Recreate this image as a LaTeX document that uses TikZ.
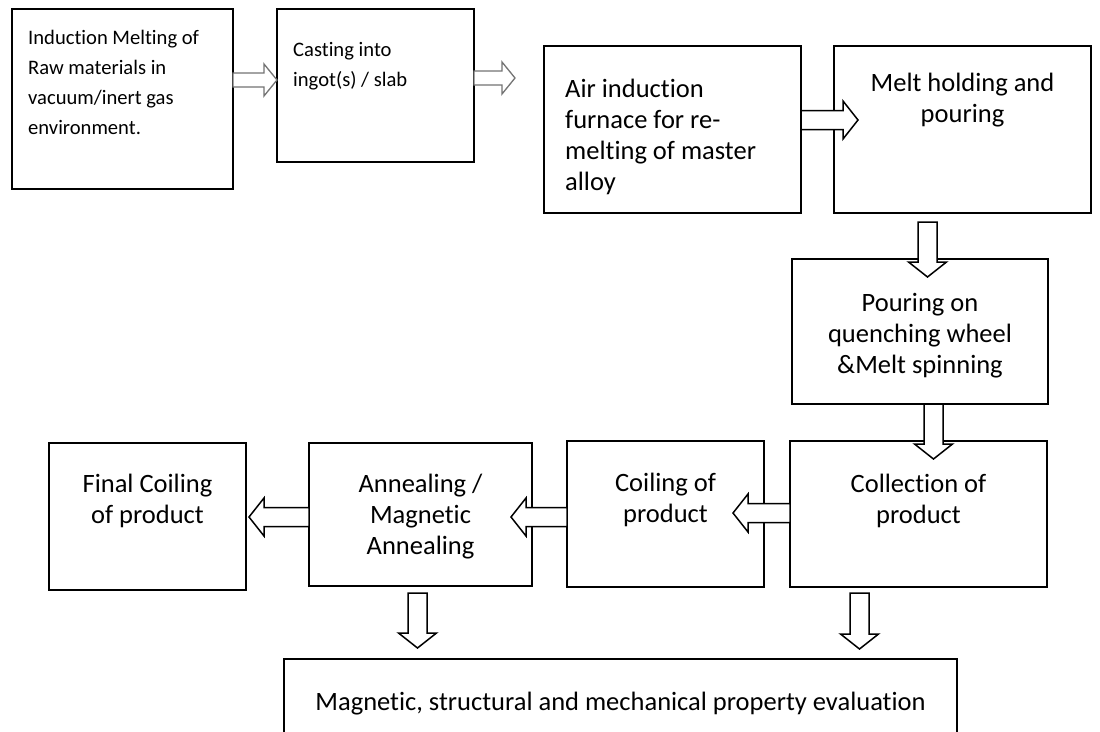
\documentclass[tikz,border=0pt]{standalone}
\usepackage{fontspec}
\setmainfont{Carlito}[Ligatures=NoCommon]
\usetikzlibrary{calc}

% hollow block arrow, #2 = start of shaft, #3 = tip
\def\shafthw{9.5pt}
\def\headhw{19pt}
\def\headlen{15pt}
\newcommand{\fatarrow}[3][]{%
	\coordinate (fa-s) at #2;
	\coordinate (fa-t) at #3;
	\coordinate (fa-h) at ($(fa-t)!\headlen!(fa-s)$);
	\draw[blockarr,#1] ($(fa-s)!\shafthw!90:(fa-t)$) -- ($(fa-h)!\shafthw!90:(fa-t)$)
		-- ($(fa-h)!\headhw!90:(fa-t)$) -- (fa-t) -- ($(fa-h)!\headhw!-90:(fa-t)$)
		-- ($(fa-h)!\shafthw!-90:(fa-t)$) -- ($(fa-s)!\shafthw!-90:(fa-t)$) -- cycle;
}

\begin{document}
\begin{tikzpicture}[x=1pt,y=-1pt,
		stage/.style={draw, line width=1.6pt, inner sep=0pt, outer sep=0pt},
		lbl/.style={inner sep=0pt, font=\fontsize{26.5}{31}\selectfont, execute at begin node=\strut},
		small lbl/.style={lbl, font=\fontsize{20.6}{30}\selectfont},
		blockarr/.style={draw, fill=white, line width=1.5pt, line join=miter}]
			% page size, the last box runs off the bottom
			\useasboundingbox (0,0) rectangle (1100,731);
			\clip (0,0) rectangle (1100,731);

			% first route: vacuum melting and casting
			\node[stage, minimum width=221pt, minimum height=180pt] (vim) at (122.5,99) {};
			\node[stage, minimum width=197pt, minimum height=153pt] (cast) at (375.5,85.5) {};
			\node[small lbl, anchor=north west, align=left] (vimtxt) at (28,30)
				{Induction Melting of\\Raw materials in\\vacuum/inert gas\\environment.};
			\node[small lbl, anchor=north west, align=left] (casttxt) at (293,42)
				{Casting into\\ingot(s) / slab};

			% air melting and holding
			\node[stage, minimum width=257pt, minimum height=167pt] (furn) at (672.5,129.5) {};
			\node[stage, minimum width=257pt, minimum height=167pt] (hold) at (962.5,129.5) {};
			\node[lbl, anchor=north west, align=left] (furntxt) at (565,78.5)
				{Air induction\\furnace for re-\\melting of master\\alloy};
			\node[lbl, anchor=north, align=center] (holdtxt) at (962.5,73.3)
				{Melt holding and\\pouring};

			% melt spinning and the product line
			\node[stage, minimum width=256pt, minimum height=145pt] (spin) at (920,331.5) {};
			\node[stage, minimum width=257pt, minimum height=146pt] (coll) at (918.5,514) {};
			\node[stage, minimum width=197pt, minimum height=146pt] (coil) at (665.5,514) {};
			\node[stage, minimum width=223pt, minimum height=143pt] (anneal) at (420.5,514.5) {};
			\node[stage, minimum width=197pt, minimum height=147pt] (final) at (147.5,516.5) {};
			\node[stage, minimum width=673pt, minimum height=86pt] (evalu) at (620.5,702) {};

			\node[lbl, anchor=north, align=center] (spintxt) at (920,293.3)
				{Pouring on\\quenching wheel\\\&Melt spinning};
			\node[lbl, anchor=north, align=center] (colltxt) at (918.5,474.3)
				{Collection of\\product};
			\node[lbl, anchor=north, align=center] (coiltxt) at (665.5,473.3)
				{Coiling of\\product};
			\node[lbl, anchor=north, align=center] (annealtxt) at (420.5,474.3)
				{Annealing /\\Magnetic\\Annealing};
			\node[lbl, anchor=north, align=center] (finaltxt) at (147.5,474.3)
				{Final Coiling\\of product};
			\node[lbl, anchor=north] (evalutxt) at (620.5,688.3)
				{Magnetic, structural and mechanical property evaluation};

			% thin grey arrows of the first route
			\coordinate (nextstep) at (515,78);
			\def\shafthw{7pt}\def\headhw{16pt}\def\headlen{13pt}
			\fatarrow[draw=black!55, line width=1.3pt]{(vim.east |- 0,80)}{(cast.west |- 0,80)}
			\fatarrow[draw=black!55, line width=1.3pt]{(cast.east |- 0,78)}{(nextstep)}

			% main arrows
			\def\shafthw{9.5pt}\def\headhw{19pt}\def\headlen{15pt}
			\fatarrow{(furn.east |- 0,120)}{($(hold.west |- 0,120)+(24,0)$)}
			\fatarrow{($(hold.south -| 927.5,0)+(0,9)$)}{($(spin.north -| 927.5,0)+(0,18)$)}
			\fatarrow{(spin.south -| 933.5,0)}{($(coll.north -| 933.5,0)+(0,18)$)}
			\fatarrow{(coll.west |- 0,513)}{($(coil.east |- 0,513)+(-31,0)$)}
			\fatarrow{(coil.west |- 0,517)}{($(anneal.east |- 0,517)+(-21,0)$)}
			\fatarrow{(anneal.west |- 0,517)}{($(final.east |- 0,517)+(3,0)$)}
			\fatarrow{($(anneal.south -| 417.5,0)+(0,7)$)}{($(evalu.north -| 417.5,0)+(0,-11)$)}
			\fatarrow{($(coll.south -| 859.5,0)+(0,6)$)}{($(evalu.north -| 859.5,0)+(0,-10)$)}
		\end{tikzpicture}
\end{document}
